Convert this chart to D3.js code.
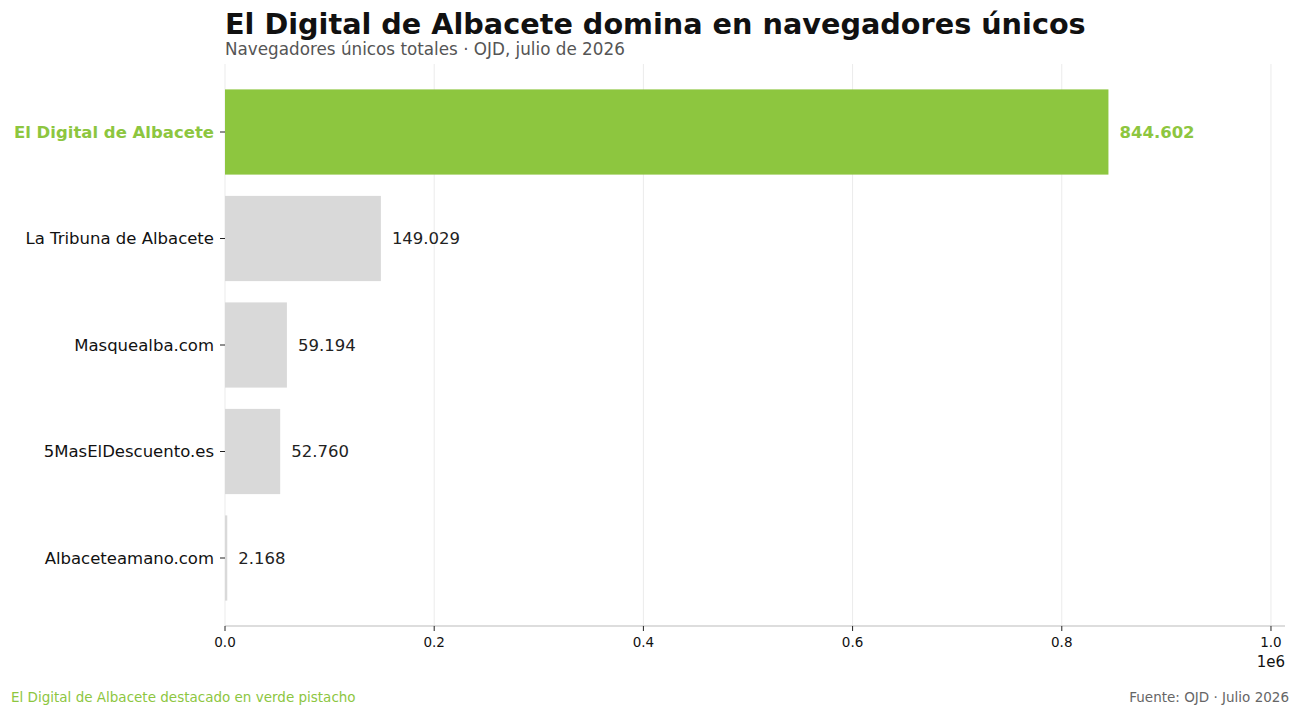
<!DOCTYPE html>
<html><head><meta charset="utf-8">
<script src="https://cdn.jsdelivr.net/npm/d3@7"></script>
<style>body{margin:0;background:#fff;font-family:"DejaVu Sans",sans-serif}</style>
</head><body><div id="viz"></div>
<script>
var medios = ["El Digital de Albacete", "La Tribuna de Albacete", "Masquealba.com", "5MasElDescuento.es", "Albaceteamano.com"];
var valores = [844602, 149029, 59194, 52760, 2168];
var etiquetas = ["844.602", "149.029", "59.194", "52.760", "2.168"];
var ticks = [0, 200000, 400000, 600000, 800000, 1000000];
var tickLabels = ["0.0", "0.2", "0.4", "0.6", "0.8", "1.0"];

var verde = "#8dc63f", gris = "#d9d9d9";
var svg = d3.select("#viz").append("svg").attr("width", 1300).attr("height", 715);

var x = d3.scaleLinear().domain([0, 1013400]).range([225, 1285]);
var y = d3.scaleBand().domain(medios).range([78.75, 611.25]).paddingInner(0.2).paddingOuter(0.1);

// grid
svg.selectAll(".grid").data(ticks).enter().append("line")
    .attr("x1", d => x(d)).attr("x2", d => x(d)).attr("y1", 64).attr("y2", 626)
    .attr("stroke", "#ebebeb").attr("stroke-width", 1);

svg.selectAll(".bar").data(valores).enter().append("rect")
    .attr("x", x(0)).attr("y", (d, i) => y(medios[i]))
    .attr("width", d => x(d) - x(0)).attr("height", y.bandwidth())
    .attr("fill", (d, i) => i == 0 ? verde : gris);

svg.selectAll(".val").data(valores).enter().append("text")
    .attr("x", d => x(d) + 11).attr("y", (d, i) => y(medios[i]) + y.bandwidth() / 2)
    .attr("dy", "0.35em").attr("font-size", 16.5)
    .attr("font-weight", (d, i) => i == 0 ? "bold" : "normal")
    .attr("fill", (d, i) => i == 0 ? verde : "#222")
    .text((d, i) => etiquetas[i]);

// y axis labels
medios.forEach(function (m, i) {
    var cy = y(m) + y.bandwidth() / 2;
    svg.append("line").attr("x1", 220).attr("x2", 225).attr("y1", cy).attr("y2", cy).attr("stroke", "#222");
    svg.append("text").attr("x", 214).attr("y", cy).attr("dy", "0.35em").attr("text-anchor", "end")
        .attr("font-size", 16.5).attr("font-weight", i == 0 ? "bold" : "normal")
        .attr("fill", i == 0 ? verde : "#111").text(m);
});

// x axis
svg.append("line").attr("x1", 225).attr("x2", 1285).attr("y1", 626).attr("y2", 626).attr("stroke", "#bbb");
ticks.forEach(function (t, i) {
    svg.append("line").attr("x1", x(t)).attr("x2", x(t)).attr("y1", 626).attr("y2", 631).attr("stroke", "#222");
    svg.append("text").attr("x", x(t)).attr("y", 647).attr("text-anchor", "middle")
        .attr("font-size", 13.5).attr("fill", "#111").text(tickLabels[i]);
});
svg.append("text").attr("x", 1285).attr("y", 667).attr("text-anchor", "end").attr("font-size", 15).attr("fill", "#111").text("1e6");

svg.append("text").attr("x", 225).attr("y", 34).attr("font-size", 28.7).attr("font-weight", "bold").attr("fill", "#111")
    .text("El Digital de Albacete domina en navegadores únicos");
svg.append("text").attr("x", 225).attr("y", 55).attr("font-size", 16.8).attr("fill", "#555")
    .text("Navegadores únicos totales · OJD, julio de 2026");
svg.append("text").attr("x", 11).attr("y", 702).attr("font-size", 13.5).attr("fill", verde)
    .text("El Digital de Albacete destacado en verde pistacho");
svg.append("text").attr("x", 1289).attr("y", 702).attr("text-anchor", "end").attr("font-size", 13.5).attr("fill", "#666")
    .text("Fuente: OJD · Julio 2026");
</script></body></html>
